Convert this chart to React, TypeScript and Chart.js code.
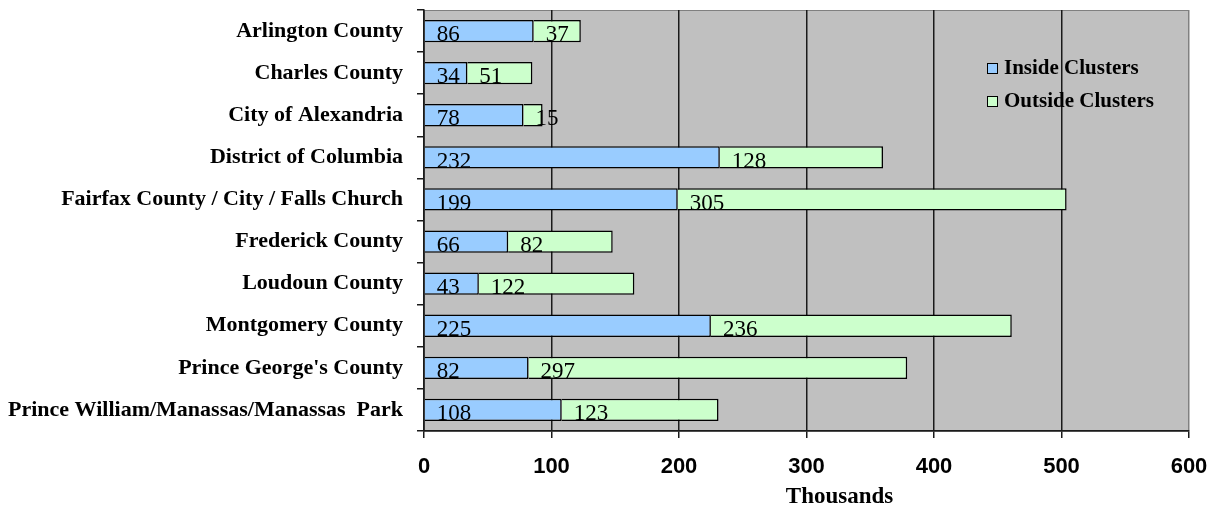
import React, { useEffect, useRef } from "react";
import { Chart, registerables } from "chart.js";

Chart.register(...registerables);

const categories = [
  "Arlington County",
  "Charles County",
  "City of Alexandria",
  "District of Columbia",
  "Fairfax County / City / Falls Church",
  "Frederick County",
  "Loudoun County",
  "Montgomery County",
  "Prince George's County",
  "Prince William/Manassas/Manassas  Park",
];
const insideClusters = [86, 34, 78, 232, 199, 66, 43, 225, 82, 108];
const outsideClusters = [37, 51, 15, 128, 305, 82, 122, 236, 297, 123];
const seriesNames = ["Inside Clusters", "Outside Clusters"];
const seriesColors = ["#99CCFF", "#CCFFCC"];
const xMax = 600;
const xStep = 100;
const axisTitle = "Thousands";

const bgPlugin = {
  id: "plotBg",
  beforeDraw(chart: any) {
    const { ctx, chartArea: a } = chart;
    ctx.save();
    ctx.fillStyle = "#C0C0C0";
    ctx.fillRect(a.left, a.top, a.right - a.left, a.bottom - a.top);
    ctx.strokeStyle = "#808080";
    ctx.lineWidth = 1;
    ctx.strokeRect(a.left + 0.5, a.top + 0.5, a.right - a.left - 1, a.bottom - a.top);
    ctx.restore();
  },
};

const valueLabelPlugin = {
  id: "valueLabels",
  afterDatasetsDraw(chart: any) {
    const { ctx } = chart;
    ctx.save();
    ctx.font = "23px 'Liberation Serif'";
    ctx.fillStyle = "#000";
    ctx.textAlign = "left";
    ctx.textBaseline = "alphabetic";
    chart.data.datasets.forEach((ds: any, di: number) => {
      const meta = chart.getDatasetMeta(di);
      meta.data.forEach((el: any, i: number) => {
        const p = el.getProps(["x", "y", "base", "height"], true);
        const left = Math.min(p.x, p.base);
        ctx.fillText(String(ds.data[i]), left + 12, p.y + p.height / 2 - 1);
      });
    });
    ctx.restore();
  },
};

const legendPlugin = {
  id: "customLegend",
  afterDraw(chart: any) {
    const { ctx, chartArea: a } = chart;
    ctx.save();
    ctx.font = "bold 21px 'Liberation Serif'";
    ctx.textBaseline = "middle";
    ctx.textAlign = "left";
    const x0 = a.right - 202;
    const ys = [a.top + 58, a.top + 91];
    seriesNames.forEach((name, i) => {
      const y = ys[i];
      ctx.fillStyle = seriesColors[i];
      ctx.fillRect(x0, y - 5, 11, 11);
      ctx.strokeStyle = "#000";
      ctx.lineWidth = 1;
      ctx.strokeRect(x0 + 0.5, y - 4.5, 10, 10);
      ctx.fillStyle = "#000";
      ctx.fillText(name, x0 + 17, y + 1);
    });
    // axis title (offset to the right of the plot centre, as in the original)
    ctx.font = "bold 23px 'Liberation Serif'";
    ctx.textAlign = "center";
    ctx.textBaseline = "middle";
    ctx.fillText(axisTitle, (a.left + a.right) / 2 + 33, chart.height - 13);
    ctx.restore();
  },
};

export default function App() {
  const ref = useRef<HTMLCanvasElement>(null);
  useEffect(() => {
    document.body.style.margin = "0";
    const chart = new Chart(ref.current!, {
      type: "bar",
      data: {
        labels: categories,
        datasets: [
          {
            label: seriesNames[0],
            data: insideClusters,
            backgroundColor: seriesColors[0],
            borderColor: "#000",
            borderWidth: 1.5,
            barPercentage: 0.53,
            categoryPercentage: 1,
          },
          {
            label: seriesNames[1],
            data: outsideClusters,
            backgroundColor: seriesColors[1],
            borderColor: "#000",
            borderWidth: 1.5,
            barPercentage: 0.53,
            categoryPercentage: 1,
          },
        ],
      },
      options: {
        indexAxis: "y",
        animation: false,
        responsive: false,
        maintainAspectRatio: false,
        layout: { padding: { top: 10, right: 31, left: 0, bottom: 0 } },
        plugins: {
          legend: { display: false },
          tooltip: { enabled: false },
        },
        scales: {
          x: {
            stacked: true,
            min: 0,
            max: xMax,
            ticks: {
              stepSize: xStep,
              color: "#000",
              font: { family: "'Liberation Sans'", size: 22, weight: "bold" },
              padding: 16,
              maxRotation: 0,
            },
            grid: {
              color: (c: any) => (c.tick && c.tick.value === xMax ? "#808080" : "#1a1a1a"),
              lineWidth: 1.5,
              tickLength: 7,
              tickColor: "#1a1a1a",
            },
            border: { color: "#1a1a1a", width: 1.5 },
            title: { display: false, text: axisTitle },
            afterFit: (s: any) => {
              s.height = 79;
              s.paddingLeft = 0;
              s.paddingRight = 0;
            },
          },
          y: {
            stacked: true,
            ticks: {
              color: "#000",
              font: { family: "'Liberation Serif'", size: 22, weight: "bold" },
              padding: 14,
              autoSkip: false,
            },
            grid: {
              offset: true,
              drawOnChartArea: false,
              tickLength: 7,
              color: "#1a1a1a",
              lineWidth: 1.5,
            },
            border: { color: "#1a1a1a", width: 1.5 },
            afterFit: (s: any) => {
              s.width = 424;
              s.paddingTop = 0;
              s.paddingBottom = 0;
            },
          },
        },
      },
      plugins: [bgPlugin, valueLabelPlugin, legendPlugin],
    } as any);
    return () => chart.destroy();
  }, []);
  return (
    <div style={{ width: 1220, height: 510 }}>
      <canvas ref={ref} width={1220} height={510} style={{ display: "block" }} />
    </div>
  );
}
